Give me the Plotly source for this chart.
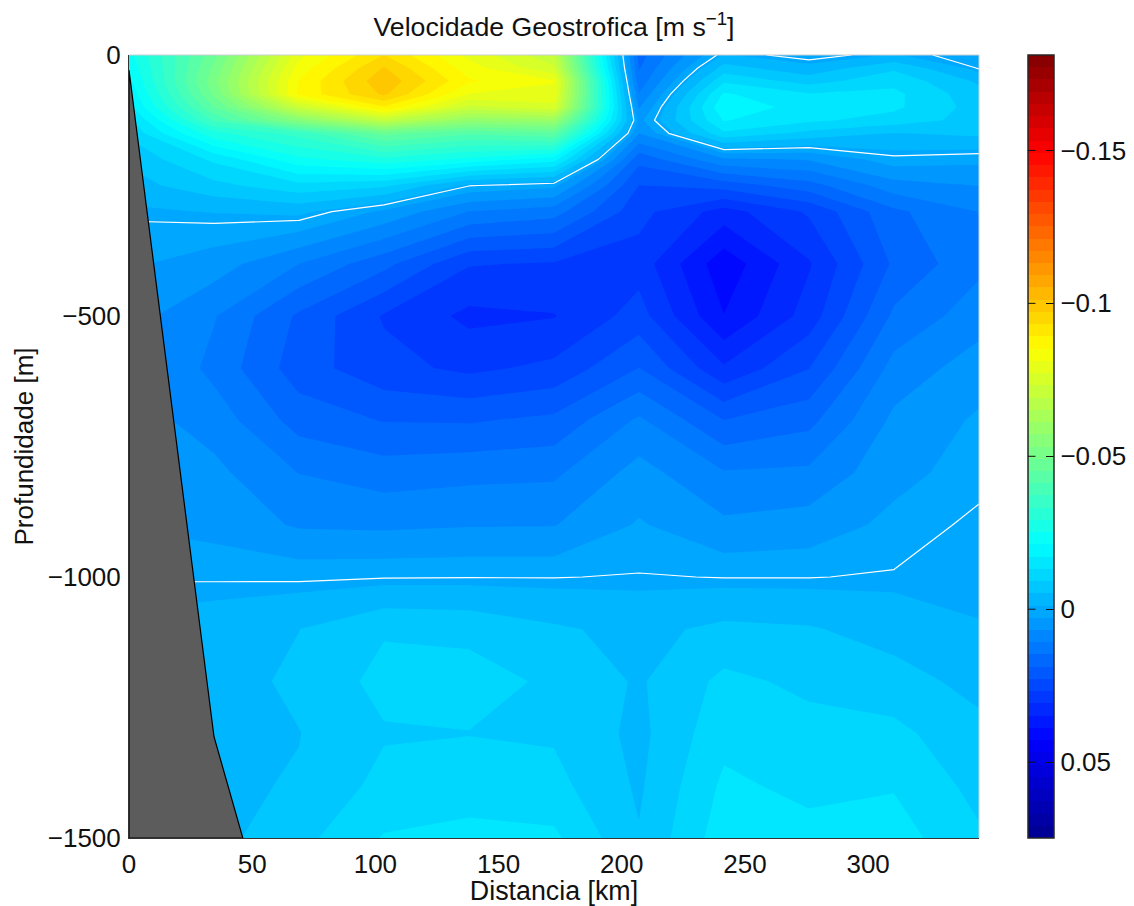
import numpy as np
import plotly.graph_objects as go

# Section geometry
distance_km = [0, 34.5, 69, 103.5, 138, 172.5, 207, 241.5, 276, 310.5, 345]
depth_m = [0, 25, 50, 75, 100, 125, 150, 200, 250, 300, 400, 500, 600, 700, 800, 900, 1000, 1100, 1200, 1300, 1400, 1500]

# Geostrophic velocity per station (m/s), same order as depth_m
v_st00 = [-.024, -.022, -.020, -.018, -.016, -.012, -.010, -.006, -.0035, -.0005, .0022, .005, .005, .005, .004, .003, .0002, -.002, -.004, -.004, -.004, -.004]
v_st01 = [-.048, -.050, -.052, -.050, -.045, -.038, -.028, -.014, -.008, -.0014, .0048, .0105, .0120, .0085, .0058, .0042, .0003, -.0030, -.0035, -.0040, -.0045, -.0039]
v_st02 = [-.080, -.083, -.0855, -.086, -.072, -.055, -.035, -.024, -.012, -.0022, .0108, .0195, .0209, .0165, .0109, .0073, .0005, -.00515, -.0060, -.0051, -.0055, -.0079]
v_st03 = [-.0933, -.0975, -.1003, -.098, -.0885, -.070, -.047, -.028, -.010, .0035, .0175, .0272, .0255, .0190, .0128, .0076, .0002, -.0088, -.0105, -.0088, -.0105, -.0135]
v_st04 = [-.080, -.083, -.0858, -.081, -.072, -.058, -.042, -.024, -.0002, .0109, .0265, .0318, .0277, .0192, .0120, .0071, .0001, -.0082, -.0108, -.0091, -.0112, -.0145]
v_st05 = [-.070, -.074, -.0815, -.080, -.076, -.060, -.045, -.019, .0018, .013, .0272, .0310, .0258, .0178, .0116, .0070, .0001, -.0058, -.0085, -.0087, -.0105, -.0140]
v_st06 = [.0165, .0152, .0135, .0105, .0072, .0039, .0067, .0175, .0229, .0255, .0285, .0251, .0187, .0101, .0053, .0024, -.0002, -.0040, -.0047, -.0041, -.0046, -.0055]
v_st07 = [-.0015, -.0068, -.0125, -.0178, -.0205, -.0175, -.0125, .0075, .021, .0325, .0415, .0387, .0302, .0187, .0105, .006, .0001, -.0062, -.0102, -.0120, -.0140, -.0155]
v_st08 = [.0015, -.0025, -.0075, -.0135, -.0150, -.0140, -.0080, .0065, .0165, .0262, .0312, .0290, .0229, .016, .0100, .0050, .0001, -.0056, -.0083, -.0106, -.0122, -.0145]
v_st09 = [-.0015, -.0085, -.012, -.0142, -.0140, -.0115, -.0050, .0008, .0085, .0157, .0181, .0140, .0093, .0059, .0040, .0018, -.0003, -.0034, -.0070, -.0102, -.0129, -.0150]
v_st10 = [.0018, .0003, -.0045, -.0065, -.0075, -.0075, -.0062, .0018, .0067, .0107, .0118, .0086, .0048, .0022, .0012, -.0008, -.0008, -.0013, -.0038, -.0065, -.0079, -.0098]

# Sea floor
bottom_x = [0, 34.5, 46.2, 46.2, 0, 0]
bottom_y = [-29, -1306, -1500, -1500, -1500, -29]

# Colour bar (the velocity axis reads upward from positive to negative)
v_ticks = [0.05, 0, -0.05, -0.1, -0.15]
v_tick_text = ["0.05", "0", "\u22120.05", "\u22120.1", "\u22120.15"]
v_max_bar = 0.0748
level_step = 0.004
n_levels = 64

jet = [[0, "#00008f"], [0.125, "#0000ff"], [0.375, "#00ffff"], [0.625, "#ffff00"], [0.875, "#ff0000"], [1, "#800000"]]

FONT = "Liberation Sans"
stations = [v_st00, v_st01, v_st02, v_st03, v_st04, v_st05, v_st06, v_st07, v_st08, v_st09, v_st10]
z = -np.array(stations).T
y = [-d for d in depth_m]
zmin = -v_max_bar
zmax = zmin + n_levels * level_step

W, H = 1134, 906
L, R, T, B = 129, 155, 55, 68
plot_w = W - L - R

fig = go.Figure()
fig.add_trace(go.Contour(
    x=distance_km, y=y, z=z, zmin=zmin, zmax=zmax, colorscale=jet,
    contours=dict(start=zmin, end=zmax, size=level_step, coloring="fill", showlines=False),
    line=dict(width=0, smoothing=0), hoverinfo="skip",
    colorbar=dict(
        x=1 + (1028 - 979) / plot_w, xanchor="left", xpad=0, ypad=0, y=0.5, yanchor="middle",
        len=1, lenmode="fraction", thickness=26, thicknessmode="pixels",
        outlinecolor="#262626", outlinewidth=1.5,
        tickmode="array", tickvals=[-t for t in v_ticks], ticktext=v_tick_text,
        ticks="inside", ticklen=8, tickcolor="#111111", tickwidth=1,
        tickfont=dict(family=FONT, size=26, color="#111111"),
    ),
))
fig.add_trace(go.Contour(
    x=distance_km, y=y, z=z, showscale=False, hoverinfo="skip",
    contours=dict(start=0, end=0, size=1, coloring="none"),
    line=dict(color="white", width=1.2, smoothing=0),
))
fig.add_trace(go.Scatter(
    x=bottom_x, y=bottom_y, mode="lines", fill="toself", fillcolor="#5c5c5c",
    line=dict(color="black", width=1.2), hoverinfo="skip", showlegend=False,
))

annotations = [
    dict(xref="paper", yref="paper", x=1 + (1028 - 979) / plot_w, y=(-t - zmin) / (zmax - zmin),
         text=" ", showarrow=True, arrowhead=0, arrowwidth=1, arrowcolor="#111111",
         ax=8, ay=0, font=dict(size=1), borderpad=0)
    for t in v_ticks
]

fig.update_layout(
    width=W, height=H, margin=dict(l=L, r=R, t=T, b=B, autoexpand=False),
    paper_bgcolor="white", plot_bgcolor="white", showlegend=False,
    font=dict(family=FONT, size=26, color="#111111"),
    title=dict(text="Velocidade Geostrofica [m s<sup>\u22121</sup>]", x=(L + plot_w / 2) / W, xanchor="center",
               y=1 - 27 / H, yanchor="middle", font=dict(family=FONT, size=26.7)),
    annotations=annotations,
    shapes=[
        dict(type="line", xref="paper", yref="paper", x0=0, x1=1, y0=1, y1=1, line=dict(color="#c9ced4", width=1)),
        dict(type="line", xref="paper", yref="paper", x0=1, x1=1, y0=0, y1=1, line=dict(color="#c9ced4", width=1)),
    ],
    xaxis=dict(range=[0, 345], tickvals=[0, 50, 100, 150, 200, 250, 300], showgrid=False, zeroline=False,
               showline=True, linecolor="#333333", linewidth=1, ticks="outside", ticklen=3,
               tickcolor="rgba(0,0,0,0)", tickfont=dict(size=26), automargin=False,
               title=dict(text="Distancia [km]", font=dict(size=26.8), standoff=2)),
    yaxis=dict(range=[-1500, 0], tickvals=[0, -500, -1000, -1500], showgrid=False, zeroline=False,
               showline=True, linecolor="#333333", linewidth=1, ticks="outside", ticklen=2,
               tickcolor="rgba(0,0,0,0)", tickfont=dict(size=26), automargin=False,
               title=dict(text="Profundidade [m]", font=dict(size=26), standoff=6)),
)
fig.write_html("out.html", config={"displayModeBar": False}, post_script='document.body.style.margin="0";')
